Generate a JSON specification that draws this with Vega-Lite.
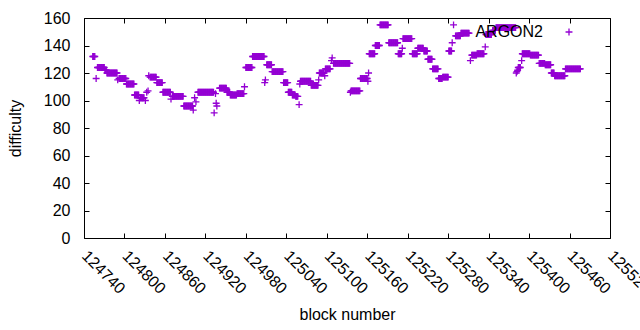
{
"$schema":"https://vega.github.io/schema/vega-lite/v6.json",
"width":526,"height":220,
"autosize":{"type":"none"},
"padding":{"left":84,"top":18,"right":30,"bottom":92},
"background":"white",
"config":{
"font":"Liberation Sans",
"view":{"stroke":"#000","strokeWidth":1},
"axis":{"labelFont":"Liberation Sans","labelFontSize":16,"labelColor":"#000","titleFont":"Liberation Sans","titleFontSize":16,"titleFontWeight":"normal","titleColor":"#000","domain":false,"grid":false,"tickColor":"#000","tickSize":-5,"tickWidth":1},
"legend":{"labelFont":"Liberation Sans","labelFontSize":16,"labelColor":"#000"}
},
"data":{"values":[
{"b":124753,"d":132},{"b":124754,"d":132},{"b":124755,"d":132},{"b":124756,"d":132},
{"b":124758,"d":116},
{"b":124760,"d":124},{"b":124761,"d":124},{"b":124762,"d":124},{"b":124763,"d":124},{"b":124764,"d":124},{"b":124765,"d":124},{"b":124766,"d":124},{"b":124767,"d":124},{"b":124768,"d":124},{"b":124769,"d":124},{"b":124770,"d":124},
{"b":124771,"d":122},{"b":124772,"d":122},{"b":124773,"d":122},
{"b":124774,"d":120},{"b":124775,"d":120},{"b":124776,"d":120},{"b":124777,"d":120},{"b":124778,"d":120},{"b":124779,"d":120},{"b":124780,"d":120},{"b":124781,"d":120},{"b":124782,"d":120},{"b":124783,"d":120},{"b":124784,"d":120},{"b":124785,"d":120},{"b":124786,"d":120},{"b":124787,"d":120},{"b":124788,"d":120},{"b":124789,"d":120},
{"b":124790,"d":115},
{"b":124792,"d":116},{"b":124793,"d":116},{"b":124794,"d":116},{"b":124795,"d":116},{"b":124796,"d":116},{"b":124797,"d":116},{"b":124798,"d":116},{"b":124799,"d":116},{"b":124800,"d":116},{"b":124801,"d":116},{"b":124802,"d":116},
{"b":124803,"d":112},{"b":124804,"d":112},{"b":124805,"d":112},{"b":124806,"d":112},{"b":124807,"d":112},{"b":124808,"d":112},{"b":124809,"d":112},{"b":124810,"d":112},{"b":124811,"d":112},{"b":124812,"d":112},{"b":124813,"d":112},{"b":124814,"d":112},
{"b":124815,"d":104},{"b":124816,"d":104},{"b":124817,"d":104},{"b":124818,"d":104},{"b":124819,"d":104},{"b":124820,"d":104},{"b":124821,"d":104},
{"b":124822,"d":100},
{"b":124823,"d":102},{"b":124824,"d":102},{"b":124825,"d":102},{"b":124826,"d":102},{"b":124827,"d":102},{"b":124828,"d":102},{"b":124829,"d":102},
{"b":124831,"d":100},{"b":124833,"d":106},{"b":124835,"d":107},{"b":124836,"d":118},
{"b":124838,"d":117},{"b":124839,"d":117},{"b":124840,"d":117},{"b":124841,"d":117},{"b":124842,"d":117},{"b":124843,"d":117},{"b":124844,"d":117},{"b":124845,"d":117},{"b":124846,"d":117},{"b":124847,"d":117},
{"b":124848,"d":113},{"b":124849,"d":113},{"b":124850,"d":113},{"b":124851,"d":113},{"b":124852,"d":113},{"b":124853,"d":113},{"b":124854,"d":113},{"b":124855,"d":113},{"b":124856,"d":113},
{"b":124857,"d":106},{"b":124858,"d":106},{"b":124859,"d":106},{"b":124860,"d":106},{"b":124861,"d":106},{"b":124862,"d":106},{"b":124863,"d":106},{"b":124864,"d":106},{"b":124865,"d":106},{"b":124866,"d":106},{"b":124867,"d":106},{"b":124868,"d":106},
{"b":124869,"d":101},
{"b":124871,"d":103},{"b":124872,"d":103},{"b":124873,"d":103},{"b":124874,"d":103},{"b":124875,"d":103},{"b":124876,"d":103},{"b":124877,"d":103},{"b":124878,"d":103},{"b":124879,"d":103},{"b":124880,"d":103},{"b":124881,"d":103},{"b":124882,"d":103},{"b":124883,"d":103},{"b":124884,"d":103},{"b":124885,"d":103},{"b":124886,"d":103},{"b":124887,"d":103},
{"b":124888,"d":96},{"b":124889,"d":96},{"b":124890,"d":96},{"b":124891,"d":96},{"b":124892,"d":96},{"b":124893,"d":96},{"b":124894,"d":96},{"b":124895,"d":96},{"b":124896,"d":96},{"b":124897,"d":96},{"b":124898,"d":96},{"b":124899,"d":96},{"b":124900,"d":96},{"b":124901,"d":96},
{"b":124902,"d":93},{"b":124904,"d":102},{"b":124906,"d":99},
{"b":124909,"d":106},{"b":124910,"d":106},{"b":124911,"d":106},{"b":124912,"d":106},{"b":124913,"d":106},{"b":124914,"d":106},{"b":124915,"d":106},{"b":124916,"d":106},{"b":124917,"d":106},{"b":124918,"d":106},{"b":124919,"d":106},{"b":124920,"d":106},{"b":124921,"d":106},{"b":124922,"d":106},{"b":124923,"d":106},{"b":124924,"d":106},{"b":124925,"d":106},{"b":124926,"d":106},{"b":124927,"d":106},{"b":124928,"d":106},{"b":124929,"d":106},{"b":124930,"d":106},{"b":124931,"d":106},{"b":124932,"d":106},
{"b":124933,"d":91},{"b":124935,"d":105},{"b":124936,"d":98},{"b":124937,"d":96},
{"b":124941,"d":109},{"b":124942,"d":109},{"b":124943,"d":109},{"b":124944,"d":109},{"b":124945,"d":109},{"b":124946,"d":109},{"b":124947,"d":109},{"b":124948,"d":109},{"b":124949,"d":109},{"b":124950,"d":109},{"b":124951,"d":109},
{"b":124952,"d":106},{"b":124953,"d":106},{"b":124954,"d":106},{"b":124955,"d":106},{"b":124956,"d":106},
{"b":124957,"d":104},{"b":124958,"d":104},{"b":124959,"d":104},{"b":124960,"d":104},{"b":124961,"d":104},{"b":124962,"d":104},{"b":124963,"d":104},{"b":124964,"d":104},{"b":124965,"d":104},{"b":124966,"d":104},
{"b":124967,"d":105},{"b":124968,"d":105},{"b":124969,"d":105},{"b":124970,"d":105},{"b":124971,"d":105},{"b":124972,"d":105},{"b":124973,"d":105},{"b":124974,"d":105},{"b":124975,"d":105},{"b":124976,"d":105},{"b":124977,"d":105},
{"b":124978,"d":110},
{"b":124980,"d":124},{"b":124981,"d":124},{"b":124982,"d":124},{"b":124983,"d":124},{"b":124984,"d":124},{"b":124985,"d":124},{"b":124986,"d":124},{"b":124987,"d":124},{"b":124988,"d":124},{"b":124989,"d":124},
{"b":124990,"d":132},{"b":124991,"d":132},{"b":124992,"d":132},{"b":124993,"d":132},{"b":124994,"d":132},{"b":124995,"d":132},{"b":124996,"d":132},{"b":124997,"d":132},{"b":124998,"d":132},{"b":124999,"d":132},{"b":125000,"d":132},{"b":125001,"d":132},{"b":125002,"d":132},{"b":125003,"d":132},{"b":125004,"d":132},{"b":125005,"d":132},{"b":125006,"d":132},{"b":125007,"d":132},
{"b":125008,"d":113},{"b":125009,"d":115},
{"b":125011,"d":126},{"b":125012,"d":126},{"b":125013,"d":126},{"b":125014,"d":126},{"b":125015,"d":126},{"b":125016,"d":126},{"b":125017,"d":126},{"b":125018,"d":126},
{"b":125019,"d":121},{"b":125020,"d":121},{"b":125021,"d":121},{"b":125022,"d":121},{"b":125023,"d":121},{"b":125024,"d":121},{"b":125025,"d":121},{"b":125026,"d":121},{"b":125027,"d":121},{"b":125028,"d":121},{"b":125029,"d":121},{"b":125030,"d":121},{"b":125031,"d":121},{"b":125032,"d":121},{"b":125033,"d":121},{"b":125034,"d":121},{"b":125035,"d":121},
{"b":125036,"d":113},{"b":125037,"d":113},{"b":125038,"d":113},{"b":125039,"d":113},{"b":125040,"d":113},{"b":125041,"d":113},{"b":125042,"d":113},
{"b":125043,"d":106},{"b":125044,"d":106},{"b":125045,"d":106},{"b":125046,"d":106},{"b":125047,"d":106},{"b":125048,"d":106},
{"b":125049,"d":104},{"b":125050,"d":104},{"b":125051,"d":104},{"b":125052,"d":104},{"b":125053,"d":104},
{"b":125054,"d":103},{"b":125055,"d":103},{"b":125056,"d":103},{"b":125057,"d":103},
{"b":125059,"d":97},{"b":125060,"d":112},
{"b":125061,"d":114},{"b":125062,"d":114},{"b":125063,"d":114},{"b":125064,"d":114},{"b":125065,"d":114},{"b":125066,"d":114},{"b":125067,"d":114},{"b":125068,"d":114},{"b":125069,"d":114},{"b":125070,"d":114},{"b":125071,"d":114},{"b":125072,"d":114},{"b":125073,"d":114},{"b":125074,"d":114},{"b":125075,"d":114},{"b":125076,"d":114},
{"b":125077,"d":111},{"b":125078,"d":111},{"b":125079,"d":111},{"b":125080,"d":111},{"b":125081,"d":111},{"b":125082,"d":111},{"b":125083,"d":111},{"b":125084,"d":111},{"b":125085,"d":111},{"b":125086,"d":111},{"b":125087,"d":111},
{"b":125088,"d":115},
{"b":125089,"d":120},{"b":125090,"d":120},{"b":125091,"d":120},{"b":125092,"d":120},{"b":125093,"d":120},{"b":125094,"d":120},{"b":125095,"d":120},{"b":125096,"d":120},
{"b":125097,"d":118},
{"b":125098,"d":123},{"b":125099,"d":123},{"b":125100,"d":123},{"b":125101,"d":123},{"b":125102,"d":123},{"b":125103,"d":123},{"b":125104,"d":123},{"b":125105,"d":123},
{"b":125107,"d":129},{"b":125108,"d":131},
{"b":125110,"d":127},{"b":125111,"d":127},{"b":125112,"d":127},{"b":125113,"d":127},{"b":125114,"d":127},{"b":125115,"d":127},{"b":125116,"d":127},{"b":125117,"d":127},{"b":125118,"d":127},{"b":125119,"d":127},{"b":125120,"d":127},{"b":125121,"d":127},{"b":125122,"d":127},{"b":125123,"d":127},{"b":125124,"d":127},{"b":125125,"d":127},{"b":125126,"d":127},{"b":125127,"d":127},{"b":125128,"d":127},{"b":125129,"d":127},{"b":125130,"d":127},{"b":125131,"d":127},{"b":125132,"d":127},{"b":125133,"d":127},{"b":125134,"d":127},
{"b":125135,"d":106},
{"b":125136,"d":107},{"b":125137,"d":107},{"b":125138,"d":107},{"b":125139,"d":107},{"b":125140,"d":107},{"b":125141,"d":107},{"b":125142,"d":107},{"b":125143,"d":107},{"b":125144,"d":107},{"b":125145,"d":107},{"b":125146,"d":107},{"b":125147,"d":107},{"b":125148,"d":107},{"b":125149,"d":107},
{"b":125150,"d":116},{"b":125151,"d":116},{"b":125152,"d":116},{"b":125153,"d":116},{"b":125154,"d":116},{"b":125155,"d":116},{"b":125156,"d":116},{"b":125157,"d":116},{"b":125158,"d":116},{"b":125159,"d":116},{"b":125160,"d":116},
{"b":125161,"d":114},{"b":125162,"d":120},
{"b":125163,"d":134},{"b":125164,"d":134},{"b":125165,"d":134},{"b":125166,"d":134},{"b":125167,"d":134},{"b":125168,"d":134},{"b":125169,"d":134},{"b":125170,"d":134},{"b":125171,"d":134},
{"b":125172,"d":140},{"b":125173,"d":140},{"b":125174,"d":140},{"b":125175,"d":140},{"b":125176,"d":140},{"b":125177,"d":140},{"b":125178,"d":140},
{"b":125179,"d":155},{"b":125180,"d":155},{"b":125181,"d":155},{"b":125182,"d":155},{"b":125183,"d":155},{"b":125184,"d":155},{"b":125185,"d":155},{"b":125186,"d":155},{"b":125187,"d":155},{"b":125188,"d":155},{"b":125189,"d":155},{"b":125190,"d":155},{"b":125191,"d":155},
{"b":125192,"d":142},{"b":125193,"d":142},{"b":125194,"d":142},{"b":125195,"d":142},{"b":125196,"d":142},{"b":125197,"d":142},{"b":125198,"d":142},{"b":125199,"d":142},{"b":125200,"d":142},{"b":125201,"d":142},{"b":125202,"d":142},{"b":125203,"d":142},{"b":125204,"d":142},{"b":125205,"d":142},
{"b":125206,"d":134},{"b":125207,"d":134},{"b":125208,"d":134},{"b":125209,"d":134},{"b":125210,"d":134},{"b":125211,"d":134},
{"b":125212,"d":138},
{"b":125213,"d":145},{"b":125214,"d":145},{"b":125215,"d":145},{"b":125216,"d":145},{"b":125217,"d":145},{"b":125218,"d":145},{"b":125219,"d":145},{"b":125220,"d":145},{"b":125221,"d":145},{"b":125222,"d":145},{"b":125223,"d":145},{"b":125224,"d":145},{"b":125225,"d":145},{"b":125226,"d":145},
{"b":125227,"d":134},{"b":125228,"d":134},{"b":125229,"d":134},{"b":125230,"d":134},{"b":125231,"d":134},{"b":125232,"d":134},{"b":125233,"d":134},{"b":125234,"d":134},
{"b":125235,"d":138},{"b":125236,"d":138},{"b":125237,"d":138},{"b":125238,"d":138},{"b":125239,"d":138},{"b":125240,"d":138},{"b":125241,"d":138},{"b":125242,"d":138},{"b":125243,"d":138},
{"b":125244,"d":136},{"b":125245,"d":136},{"b":125246,"d":136},{"b":125247,"d":136},{"b":125248,"d":136},{"b":125249,"d":136},
{"b":125250,"d":130},{"b":125251,"d":130},{"b":125252,"d":130},{"b":125253,"d":130},{"b":125254,"d":130},{"b":125255,"d":130},{"b":125256,"d":130},
{"b":125257,"d":123},{"b":125258,"d":123},{"b":125259,"d":123},{"b":125260,"d":123},{"b":125261,"d":123},{"b":125262,"d":123},{"b":125263,"d":123},{"b":125264,"d":123},{"b":125265,"d":123},
{"b":125266,"d":116},{"b":125267,"d":116},{"b":125268,"d":116},{"b":125269,"d":116},{"b":125270,"d":116},{"b":125271,"d":116},
{"b":125272,"d":117},{"b":125273,"d":117},{"b":125274,"d":117},{"b":125275,"d":117},{"b":125276,"d":117},{"b":125277,"d":117},{"b":125278,"d":117},{"b":125279,"d":117},{"b":125280,"d":117},
{"b":125281,"d":136},{"b":125282,"d":136},{"b":125283,"d":136},{"b":125284,"d":136},{"b":125285,"d":136},
{"b":125286,"d":142},{"b":125288,"d":155},
{"b":125291,"d":147},{"b":125292,"d":147},{"b":125293,"d":147},{"b":125294,"d":147},{"b":125295,"d":147},{"b":125296,"d":147},{"b":125297,"d":147},{"b":125298,"d":147},
{"b":125299,"d":149},{"b":125300,"d":149},{"b":125301,"d":149},{"b":125302,"d":149},{"b":125303,"d":149},{"b":125304,"d":149},{"b":125305,"d":149},{"b":125306,"d":149},{"b":125307,"d":149},{"b":125308,"d":149},{"b":125309,"d":149},{"b":125310,"d":149},{"b":125311,"d":149},
{"b":125313,"d":129},
{"b":125315,"d":133},{"b":125316,"d":133},{"b":125317,"d":133},{"b":125318,"d":133},{"b":125319,"d":133},{"b":125320,"d":133},{"b":125321,"d":133},{"b":125322,"d":133},
{"b":125323,"d":134},{"b":125324,"d":134},{"b":125325,"d":134},{"b":125326,"d":134},{"b":125327,"d":134},{"b":125328,"d":134},{"b":125329,"d":134},{"b":125330,"d":134},{"b":125331,"d":134},{"b":125332,"d":134},{"b":125333,"d":134},
{"b":125335,"d":139},
{"b":125336,"d":148},{"b":125337,"d":148},{"b":125338,"d":148},{"b":125339,"d":148},{"b":125340,"d":148},{"b":125341,"d":148},{"b":125342,"d":148},{"b":125343,"d":148},{"b":125344,"d":148},
{"b":125346,"d":151},{"b":125347,"d":151},{"b":125348,"d":151},{"b":125349,"d":151},{"b":125350,"d":151},
{"b":125351,"d":153},{"b":125352,"d":153},{"b":125353,"d":153},{"b":125354,"d":153},{"b":125355,"d":153},{"b":125356,"d":153},{"b":125357,"d":153},{"b":125358,"d":153},{"b":125359,"d":153},{"b":125360,"d":153},{"b":125361,"d":153},{"b":125362,"d":153},{"b":125363,"d":153},{"b":125364,"d":153},{"b":125365,"d":153},{"b":125366,"d":153},{"b":125367,"d":153},{"b":125368,"d":153},{"b":125369,"d":153},{"b":125370,"d":153},{"b":125371,"d":153},{"b":125372,"d":153},{"b":125373,"d":153},{"b":125374,"d":153},{"b":125375,"d":153},{"b":125376,"d":153},{"b":125377,"d":153},{"b":125378,"d":153},{"b":125379,"d":153},{"b":125380,"d":153},
{"b":125381,"d":120},{"b":125382,"d":121},{"b":125383,"d":122},{"b":125384,"d":124},{"b":125385,"d":124},{"b":125386,"d":124},{"b":125387,"d":124},{"b":125389,"d":129},
{"b":125390,"d":134},{"b":125391,"d":134},{"b":125392,"d":134},{"b":125393,"d":134},{"b":125394,"d":134},{"b":125395,"d":134},{"b":125396,"d":134},{"b":125397,"d":134},{"b":125398,"d":134},{"b":125399,"d":134},{"b":125400,"d":134},{"b":125401,"d":134},
{"b":125402,"d":133},{"b":125403,"d":133},{"b":125404,"d":133},{"b":125405,"d":133},{"b":125406,"d":133},{"b":125407,"d":133},{"b":125408,"d":133},{"b":125409,"d":133},{"b":125410,"d":133},{"b":125411,"d":133},{"b":125412,"d":133},{"b":125413,"d":133},{"b":125414,"d":133},
{"b":125415,"d":127},{"b":125416,"d":127},{"b":125417,"d":127},{"b":125418,"d":127},{"b":125419,"d":127},{"b":125420,"d":127},{"b":125421,"d":127},{"b":125422,"d":127},{"b":125423,"d":127},
{"b":125424,"d":126},{"b":125425,"d":126},{"b":125426,"d":126},{"b":125427,"d":126},{"b":125428,"d":126},{"b":125429,"d":126},{"b":125430,"d":126},{"b":125431,"d":126},{"b":125432,"d":126},
{"b":125433,"d":120},{"b":125434,"d":120},{"b":125435,"d":120},{"b":125436,"d":120},{"b":125437,"d":120},
{"b":125438,"d":118},{"b":125439,"d":118},{"b":125440,"d":118},{"b":125441,"d":118},{"b":125442,"d":118},{"b":125443,"d":118},{"b":125444,"d":118},{"b":125445,"d":118},{"b":125446,"d":118},{"b":125447,"d":118},{"b":125448,"d":118},{"b":125449,"d":118},{"b":125450,"d":118},{"b":125451,"d":118},{"b":125452,"d":118},{"b":125453,"d":118},
{"b":125454,"d":123},{"b":125455,"d":123},{"b":125456,"d":123},{"b":125457,"d":123},{"b":125458,"d":123},{"b":125459,"d":123},{"b":125460,"d":123},{"b":125461,"d":123},{"b":125462,"d":123},{"b":125463,"d":123},{"b":125464,"d":123},{"b":125465,"d":123},{"b":125466,"d":123},{"b":125467,"d":123},{"b":125468,"d":123},{"b":125469,"d":123},{"b":125470,"d":123},{"b":125471,"d":123},{"b":125472,"d":123},{"b":125473,"d":123},{"b":125474,"d":123},{"b":125475,"d":123},{"b":125476,"d":123}
]},
"layer":[
{"mark":{"type":"point","shape":"M-1,0H1M0,-1V1","filled":false,"size":48,"strokeWidth":1.3,"opacity":1},
"encoding":{
"x":{"field":"b","type":"quantitative","scale":{"domain":[124740,125520],"nice":false,"zero":false},
"axis":{"orient":"bottom","values":[124740,124800,124860,124920,124980,125040,125100,125160,125220,125280,125340,125400,125460,125520],"format":"d","labelAngle":45,"labelAlign":"left","labelBaseline":"middle","labelPadding":20,"labelOverlap":false,"labelBound":false,"labelFlush":false,"title":"block number","titlePadding":10}},
"y":{"field":"d","type":"quantitative","scale":{"domain":[0,160],"nice":false},
"axis":{"values":[0,20,40,60,80,100,120,140,160],"format":"d","labelPadding":19,"labelOverlap":false,"title":"difficulty","titlePadding":20}},
"color":{"datum":"ARGON2","type":"nominal","scale":{"range":["#9400d3"]},
"legend":{"title":null,"orient":"none","legendX":477,"legendY":6,"padding":0,"symbolType":"M-1,0H1M0,-1V1","symbolSize":48,"symbolStrokeWidth":1.3,"labelAlign":"right","labelOffset":-34,"labelFontSize":16}}
}},
{"mark":{"type":"point","opacity":0},
"encoding":{
"x":{"field":"b","type":"quantitative","axis":{"orient":"top","labels":false,"title":null,"values":[124740,124800,124860,124920,124980,125040,125100,125160,125220,125280,125340,125400,125460,125520]}},
"y":{"field":"d","type":"quantitative","axis":{"orient":"right","labels":false,"title":null,"values":[0,20,40,60,80,100,120,140,160]}}
}}
],
"resolve":{"axis":{"x":"independent","y":"independent"}}
}
